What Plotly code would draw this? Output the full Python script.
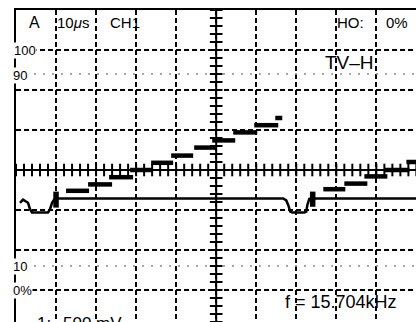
import numpy as np
import plotly.graph_objects as go

# Oscilloscope: 10 us/div, 500 mV/div, TV line test signal (staircase)
# Staircase steps: start time (us), end time (us), level (V)
step_start_us = [12.5, 18.0, 23.25, 28.5, 33.75, 38.75, 44.5, 49.0, 54.25, 59.5, 64.75,
                 76.75, 82.0, 87.0, 92.0, 97.5]
step_end_us = [18.25, 24.0, 29.25, 34.0, 39.25, 44.25, 50.0, 54.75, 60.25, 65.5, 66.5,
               82.25, 87.75, 92.75, 98.25, 100.0]
step_level_v = [-0.26, -0.18, -0.09, 0.0, 0.09, 0.18, 0.28, 0.37, 0.47, 0.56, 0.65,
                -0.24, -0.17, -0.08, 0.0, 0.10]

# Blanking level with horizontal sync pulses
sync_t_us = [1.0, 1.75, 3.0, 3.5, 4.0, 8.0, 8.5, 9.0, 9.5, 10.0,
             66.75, 67.5, 68.0, 68.5, 69.0, 72.0, 72.5, 72.75, 73.25, 73.75, 100.0]
sync_v = [-0.41, -0.37, -0.41, -0.49, -0.53, -0.53, -0.49, -0.41, -0.37, -0.356,
          -0.356, -0.38, -0.44, -0.52, -0.53, -0.53, -0.52, -0.44, -0.36, -0.356, -0.356]

# Colour bursts
burst_t_us = [10.0, 74.1]
burst_top_v = [-0.27, -0.27]
burst_bottom_v = [-0.47, -0.46]

# Graticule reference levels (V)
ref_100_v, ref_90_v, ref_10_v, ref_0_v = 1.5, 1.2, -1.2, -1.5

FONT = "Liberation Sans, Arial, sans-serif"

fig = go.Figure()

# dotted 90 % / 10 % reference lines
for lvl in (ref_90_v, ref_10_v):
    fig.add_trace(go.Scatter(x=[0, 100], y=[lvl, lvl], mode="lines",
                             line=dict(color="#8a8a8a", width=1.5, dash="2px,7px"),
                             hoverinfo="skip"))

# solid centre vertical line
fig.add_trace(go.Scatter(x=[50, 50], y=[-1.9, 2.0], mode="lines",
                         line=dict(color="black", width=2), hoverinfo="skip"))

# staircase dashes
sx, sy = [], []
for a, b, v in zip(step_start_us, step_end_us, step_level_v):
    sx += [a, b, None]
    sy += [v, v, None]
fig.add_trace(go.Scatter(x=sx, y=sy, mode="lines",
                         line=dict(color="black", width=4.5), hoverinfo="skip"))

# blanking + sync
fig.add_trace(go.Scatter(x=sync_t_us, y=sync_v, mode="lines",
                         line=dict(color="black", width=2.5), hoverinfo="skip"))

# bursts
bx, by = [], []
for t, top, bot in zip(burst_t_us, burst_top_v, burst_bottom_v):
    bx += [t, t, None]
    by += [top, bot, None]
fig.add_trace(go.Scatter(x=bx, y=by, mode="lines",
                         line=dict(color="black", width=5.5), hoverinfo="skip"))

# center axis minor ticks (graticule)
tx = np.arange(0, 100.01, 2.0)
fig.add_trace(go.Scatter(x=tx, y=np.zeros_like(tx), mode="markers",
                         marker=dict(symbol="line-ns", size=9, color="black",
                                     line=dict(width=2, color="black")),
                         hoverinfo="skip"))
ty = np.round(np.arange(-19, 21) * 0.1, 2)
fig.add_trace(go.Scatter(x=np.full_like(ty, 50.0), y=ty, mode="markers",
                         marker=dict(symbol="line-ew", size=9, color="black",
                                     line=dict(width=2, color="black")),
                         hoverinfo="skip"))


def ann(text, px, py, size, bg=None, xanchor="left"):
    return dict(text=text, xref="paper", yref="paper",
                x=(px - 16) / 400.0, y=(322 - py) / 312.0,
                xanchor=xanchor, yanchor="middle", showarrow=False,
                font=dict(family=FONT, size=size, color="black"),
                bgcolor=bg, borderpad=0)


annotations = [
    ann("A", 28, 23, 16),
    ann("10<i>μ</i>s", 56, 23, 15),
    ann("CH1", 109, 23, 15),
    ann("HO:", 336, 23, 15),
    ann("0%", 385, 23, 15),
    ann("TV–H", 324, 63, 19),
    ann("100", 13, 51, 13, bg="white"),
    ann("90", 12, 75, 13, bg="white"),
    ann("10", 12, 266, 13, bg="white"),
    ann("0%", 12, 290, 13, bg="white"),
    ann("f = 15.704kHz", 284, 302, 18),
    ann("1:", 36, 323, 17),
    ann("500 mV", 62, 323, 17),
]

grid = dict(showgrid=True, gridcolor="black", gridwidth=2, griddash="5px,3px",
            showticklabels=False, ticks="", showline=True, linecolor="black",
            linewidth=2, fixedrange=True)

fig.update_layout(
    width=416, height=322,
    margin=dict(l=16, r=0, t=10, b=0, pad=0),
    paper_bgcolor="white", plot_bgcolor="white",
    showlegend=False,
    xaxis=dict(range=[0, 99.9], tick0=0, dtick=10, zeroline=False, side="top", **grid),
    yaxis=dict(range=[-1.9, 2.0], tick0=0, dtick=0.5, zeroline=True,
               zerolinecolor="black", zerolinewidth=2, **grid),
    annotations=annotations,
)

fig.write_html("out.html", config={"displayModeBar": False},
               post_script="document.body.style.margin='0';document.body.style.overflow='hidden';")
